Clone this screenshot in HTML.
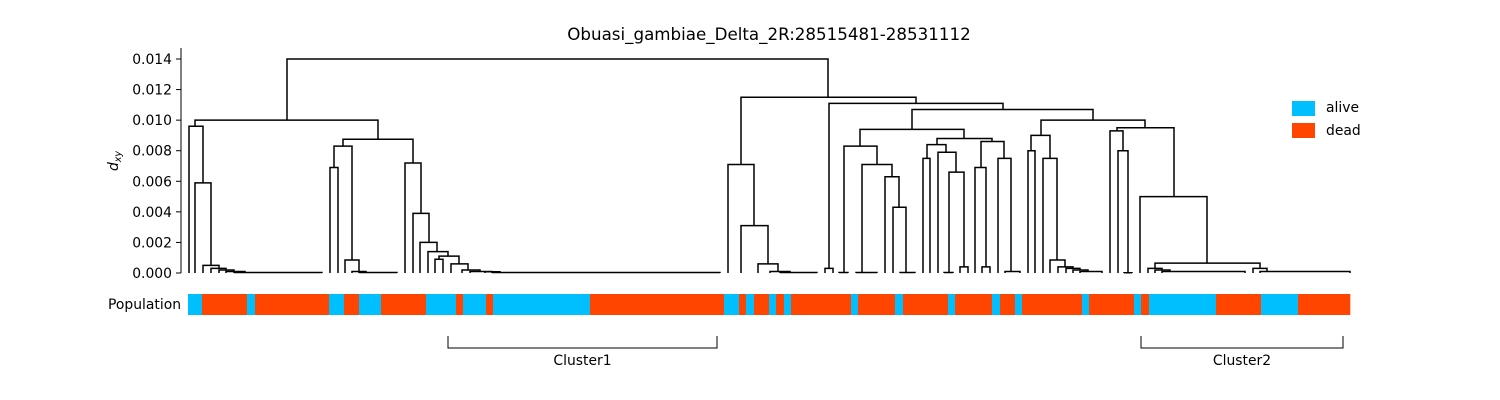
<!DOCTYPE html>
<html><head><meta charset="utf-8"><style>
body{margin:0;background:#fff;}
svg{display:block;font-family:"DejaVu Sans","Liberation Sans",sans-serif;}
</style></head><body>
<svg id="chart" width="1500" height="400">
<text x="769" y="40" text-anchor="middle" font-size="16.7">Obuasi_gambiae_Delta_2R:28515481-28531112</text>
<g id="axis"></g>
<g id="tree"></g>
<g id="pop"></g>
<text x="181" y="309" text-anchor="end" font-size="13.9">Population</text>
<text transform="translate(118,161) rotate(-90)" text-anchor="middle" font-size="13.9" font-style="italic">d<tspan font-size="9.5" dy="3">xy</tspan></text>
<g>
<rect x="1292" y="101" width="23" height="15" fill="#00bfff"/>
<text x="1326" y="112" font-size="13.9">alive</text>
<rect x="1292" y="123" width="23" height="15" fill="#ff4500"/>
<text x="1326" y="135" font-size="13.9">dead</text>
</g>
<g id="clusters"></g>
</svg>
<script>
const yTicks=[0,0.002,0.004,0.006,0.008,0.010,0.012,0.014];
const yTickLabels=["0.000","0.002","0.004","0.006","0.008","0.010","0.012","0.014"];
const links=[
[287,828,0.0100,0.0115,0.0140],
[195,378,0.0096,0.00875,0.0100],
[189,203,0,0.0059,0.0096],
[195,211,0,0.0005,0.0059],
[203,219,0,0.0003,0.0005],
[211,226,0,0.0002,0.0003],
[219,234,0,0.0001,0.0002],
[226,245,0,0.00005,0.0001],
[234,322,0,0,0.00003],
[343,413,0.0083,0.0072,0.00875],
[334,352,0.0069,0.00085,0.0083],
[330,338,0,0,0.0069],
[345,359,0,0.0001,0.00085],
[352,366,0,0,0.0001],
[359,397,0,0,0.00003],
[405,421,0,0.0039,0.0072],
[413,429,0,0.0020,0.0039],
[420,437,0,0.0014,0.0020],
[428,448,0,0.0011,0.0014],
[439,459,0.0009,0.0006,0.0011],
[435,443,0,0,0.0009],
[451,468,0,0.0002,0.0006],
[462,480,0,0.0001,0.0002],
[470,492,0,0.00008,0.0001],
[485,500,0,0.00005,0.00008],
[492,720,0,0,0.00003],
[741,916,0.0071,0.0111,0.0115],
[728,754,0,0.0031,0.0071],
[741,768,0,0.0006,0.0031],
[758,778,0,0.0001,0.0006],
[770,790,0,0.00005,0.0001],
[780,817,0,0,0.00003],
[829,1003,0.0003,0.0107,0.0111],
[825,833,0,0,0.0003],
[839,848,0,0,0.00003],
[912,1093,0.0094,0.0100,0.0107],
[860,964,0.0083,0.0088,0.0094],
[844,877,0,0.0071,0.0083],
[856,877,0,0,0.00003],
[862,892,0,0.0063,0.0071],
[885,899,0,0.0043,0.0063],
[893,906,0,0,0.0043],
[900,915,0,0,0.00003],
[937,992,0.0084,0.0086,0.0088],
[927,946,0.0075,0.0079,0.0084],
[923,930,0,0,0.0075],
[938,956,0,0.0066,0.0079],
[944,953,0,0,0.00003],
[949,964,0,0.0004,0.0066],
[960,968,0,0,0.0004],
[981,1004,0.0069,0.0075,0.0086],
[975,986,0,0.0004,0.0069],
[982,990,0,0,0.0004],
[998,1011,0,0.0001,0.0075],
[1005,1020,0,0,0.0001],
[1041,1145,0.0090,0.0095,0.0100],
[1031,1050,0.0080,0.0075,0.0090],
[1028,1035,0,0,0.0080],
[1043,1057,0,0.00085,0.0075],
[1050,1065,0,0.0004,0.00085],
[1058,1073,0,0.0003,0.0004],
[1066,1080,0,0.0002,0.0003],
[1073,1088,0,0.0001,0.0002],
[1080,1102,0,0,0.0001],
[1117,1174,0.0093,0.0050,0.0095],
[1110,1123,0,0.0080,0.0093],
[1118,1128,0,0.00002,0.0080],
[1124,1132,0,0,0.00002],
[1140,1207,0,0.00065,0.0050],
[1155,1260,0.0003,0.0003,0.00065],
[1148,1162,0,0.0002,0.0003],
[1155,1170,0,0.0001,0.0002],
[1162,1245,0,0,0.0001],
[1253,1267,0,0.0001,0.0003],
[1260,1350,0,0,0.0001]
];
const popBounds=[188,202,247,255,329,344,359,381,426,456,463,486,493,590,724,739,746,754,769,776,784,791,851,858,895,903,948,955,992,1000,1015,1022,1082,1089,1134,1141,1149,1216,1261,1298,1350];
const popGroups=["alive","dead","alive","dead","alive","dead","alive","dead","alive","dead","alive","dead","alive","dead","alive","dead","alive","dead","alive","dead","alive","dead","alive","dead","alive","dead","alive","dead","alive","dead","alive","dead","alive","dead","alive","dead","alive","dead","alive","dead"];
const clusterNames=["Cluster1","Cluster2"];
const clusterStart=[448,1141];
const clusterEnd=[717,1343];

const NS="http://www.w3.org/2000/svg";
const X0=188,X1=1350;
function xs(v){return 188+(v-X0)/(X1-X0)*(1350-188);}
function ys(v){return 273-v/0.014*214;}
function mk(tag,attrs,parent){const e=document.createElementNS(NS,tag);for(const k in attrs)e.setAttribute(k,attrs[k]);parent.appendChild(e);return e;}
const axis=document.getElementById('axis');
const sp=mk('line',{x1:181,y1:48,x2:181,y2:273,stroke:'#000','stroke-width':1},axis);


yTicks.forEach((t,i)=>{
 const tk=mk('line',{x1:176,x2:181,y1:ys(t),y2:ys(t),stroke:'#000','stroke-width':1},axis);
 
 
 const tx=mk('text',{x:172,y:ys(t)+5,'text-anchor':'end','font-size':13.9},axis);
 tx.textContent=yTickLabels[i];
 
 
});
const tree=document.getElementById('tree');
links.forEach(l=>{
 const p=mk('path',{d:`M${xs(l[0])},${ys(l[2])}V${ys(l[4])}H${xs(l[1])}V${ys(l[3])}`,fill:'none',stroke:'#000','stroke-width':1.5},tree);
 
 
});
const pop=document.getElementById('pop');
popGroups.forEach((g,i)=>{
 const r=mk('rect',{x:xs(popBounds[i]),y:294,width:xs(popBounds[i+1])-xs(popBounds[i])+0.3,height:21,fill:g==='alive'?'#00bfff':'#ff4500'},pop);
 
 
});
const cl=document.getElementById('clusters');
clusterNames.forEach((n,i)=>{
 const a=xs(clusterStart[i]),b=xs(clusterEnd[i]);
 const p=mk('path',{d:`M${a},336V348H${b}V336`,fill:'none',stroke:'#000','stroke-width':1},cl);
 
 
 const t=mk('text',{x:(a+b)/2,y:365,'text-anchor':'middle','font-size':13.9},cl);
 t.textContent=n;
 
 
});
</script>
</body></html>
